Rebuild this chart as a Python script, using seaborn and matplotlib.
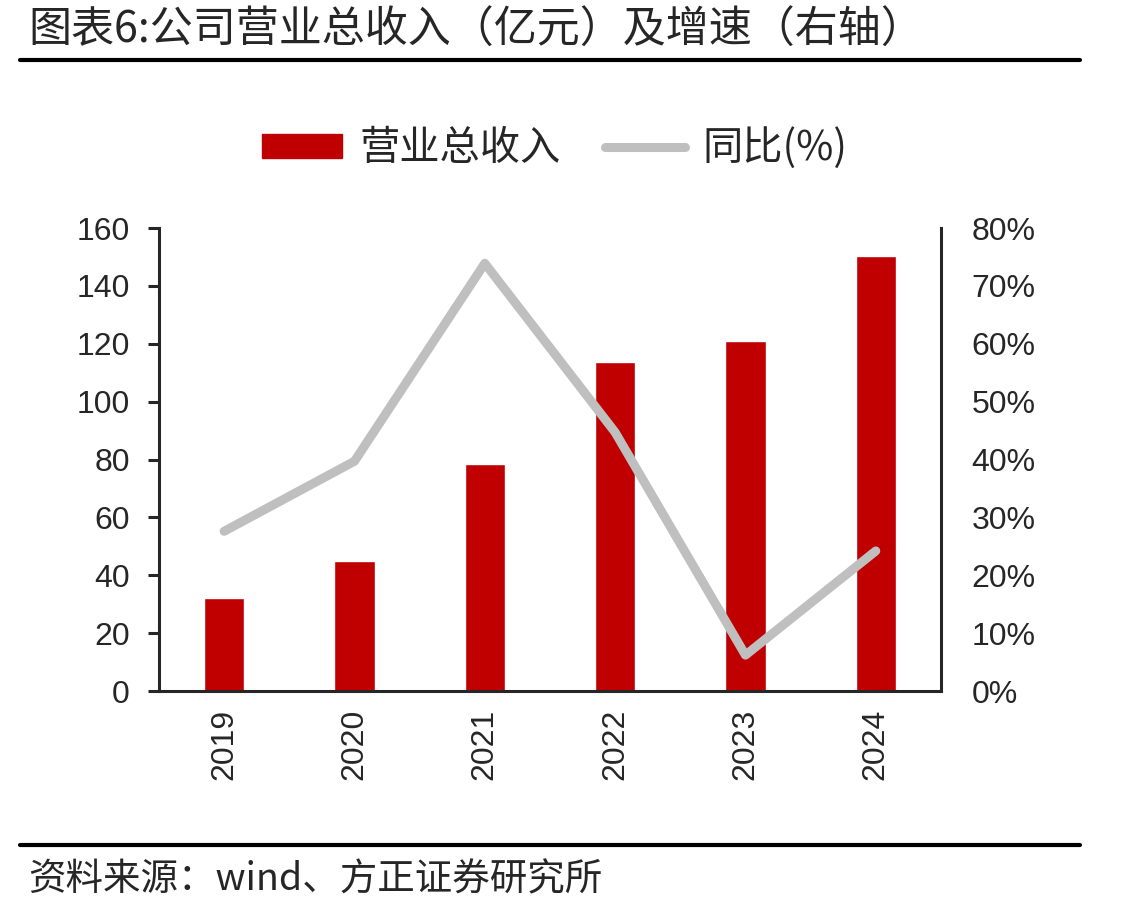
import matplotlib.pyplot as plt
import matplotlib.ticker as mticker
from matplotlib.lines import Line2D
from matplotlib.patches import Patch
import numpy as np
import pandas as pd
import seaborn as sns

years = ["2019", "2020", "2021", "2022", "2023", "2024"]
revenue = [32.1, 44.9, 78.4, 113.7, 120.9, 150.3]   # 亿元
growth = [27.6, 39.7, 73.9, 44.7, 6.2, 24.2]        # %

title = "图表6:公司营业总收入（亿元）及增速（右轴）"
source = "资料来源：wind、方正证券研究所"
bar_label = "营业总收入"
line_label = "同比(%)"

df = pd.DataFrame({"year": years, "revenue": revenue, "growth": growth})
df["pos"] = np.arange(len(df))

sns.set_style("white")
plt.rcParams["font.family"] = ["Liberation Sans", "Noto Sans CJK SC", "DejaVu Sans"]
cjk = ["Noto Sans CJK SC", "DejaVu Sans"]

red = "#C00000"
grey = "#BFBFBF"

fig = plt.figure(figsize=(11.25, 9.15), dpi=100)
ax = fig.add_axes([0.1413, 0.2448, 0.6951, 0.506])

sns.barplot(df, x="year", y="revenue", color=red, width=0.31, saturation=1, ax=ax)
ax.set_ylim(0, 160)
ax.set_xlim(-0.5, len(years) - 0.5)
ax.set_yticks(np.arange(0, 161, 20))

ax2 = ax.twinx()
sns.lineplot(df, x="pos", y="growth", color=grey, linewidth=6.5, ax=ax2,
             solid_capstyle="round", legend=False)
ax2.set_ylim(0, 80)
ax2.set_yticks(np.arange(0, 81, 10))
ax2.yaxis.set_major_formatter(mticker.FuncFormatter(lambda v, _: f"{int(v)}%"))
ax2.set_xlim(-0.5, len(years) - 0.5)

for a in (ax, ax2):
    a.set_xlabel("")
    a.set_ylabel("")
    a.spines["top"].set_visible(False)
    for s in a.spines.values():
        s.set_linewidth(2.2)
ax.spines["right"].set_visible(False)
ax2.spines["left"].set_visible(False)
ax2.spines["bottom"].set_visible(False)

ax.set_xticks(np.arange(len(years)))
ax.set_xticklabels(years, rotation=90)
ax.set_xticks(np.arange(-0.5, len(years), 1), minor=True)
ax.tick_params(axis="x", which="major", length=0, pad=13, labelsize=23)
ax.tick_params(axis="x", which="minor", length=8, width=2.2, direction="out")
ax.tick_params(axis="y", length=8, width=2.2, direction="out", pad=13, labelsize=23, left=True)
ax2.tick_params(axis="y", length=0, pad=22, labelsize=23, right=True)

handles = [Patch(facecolor=red, edgecolor=red),
           Line2D([0], [0], color=grey, linewidth=6.5, solid_capstyle="round")]
fig.legend(handles, [bar_label, line_label], loc="center", bbox_to_anchor=(0.493, 0.838),
           ncol=2, frameon=False, prop={"family": cjk, "size": 29},
           handlelength=2.0, handleheight=0.55, columnspacing=1.1, handletextpad=0.42)

fig.text(0.025, 0.966, title, fontsize=31, family=cjk, ha="left", va="center")
fig.add_artist(Line2D([0.018, 0.96], [0.9344, 0.9344], color="black", linewidth=3,
                      transform=fig.transFigure))
fig.add_artist(Line2D([0.018, 0.96], [0.0765, 0.0765], color="black", linewidth=3,
                      transform=fig.transFigure))
fig.text(0.025, 0.038, source, fontsize=27, family=cjk, ha="left", va="center", style="italic")

fig.savefig("out.png", dpi=100)
